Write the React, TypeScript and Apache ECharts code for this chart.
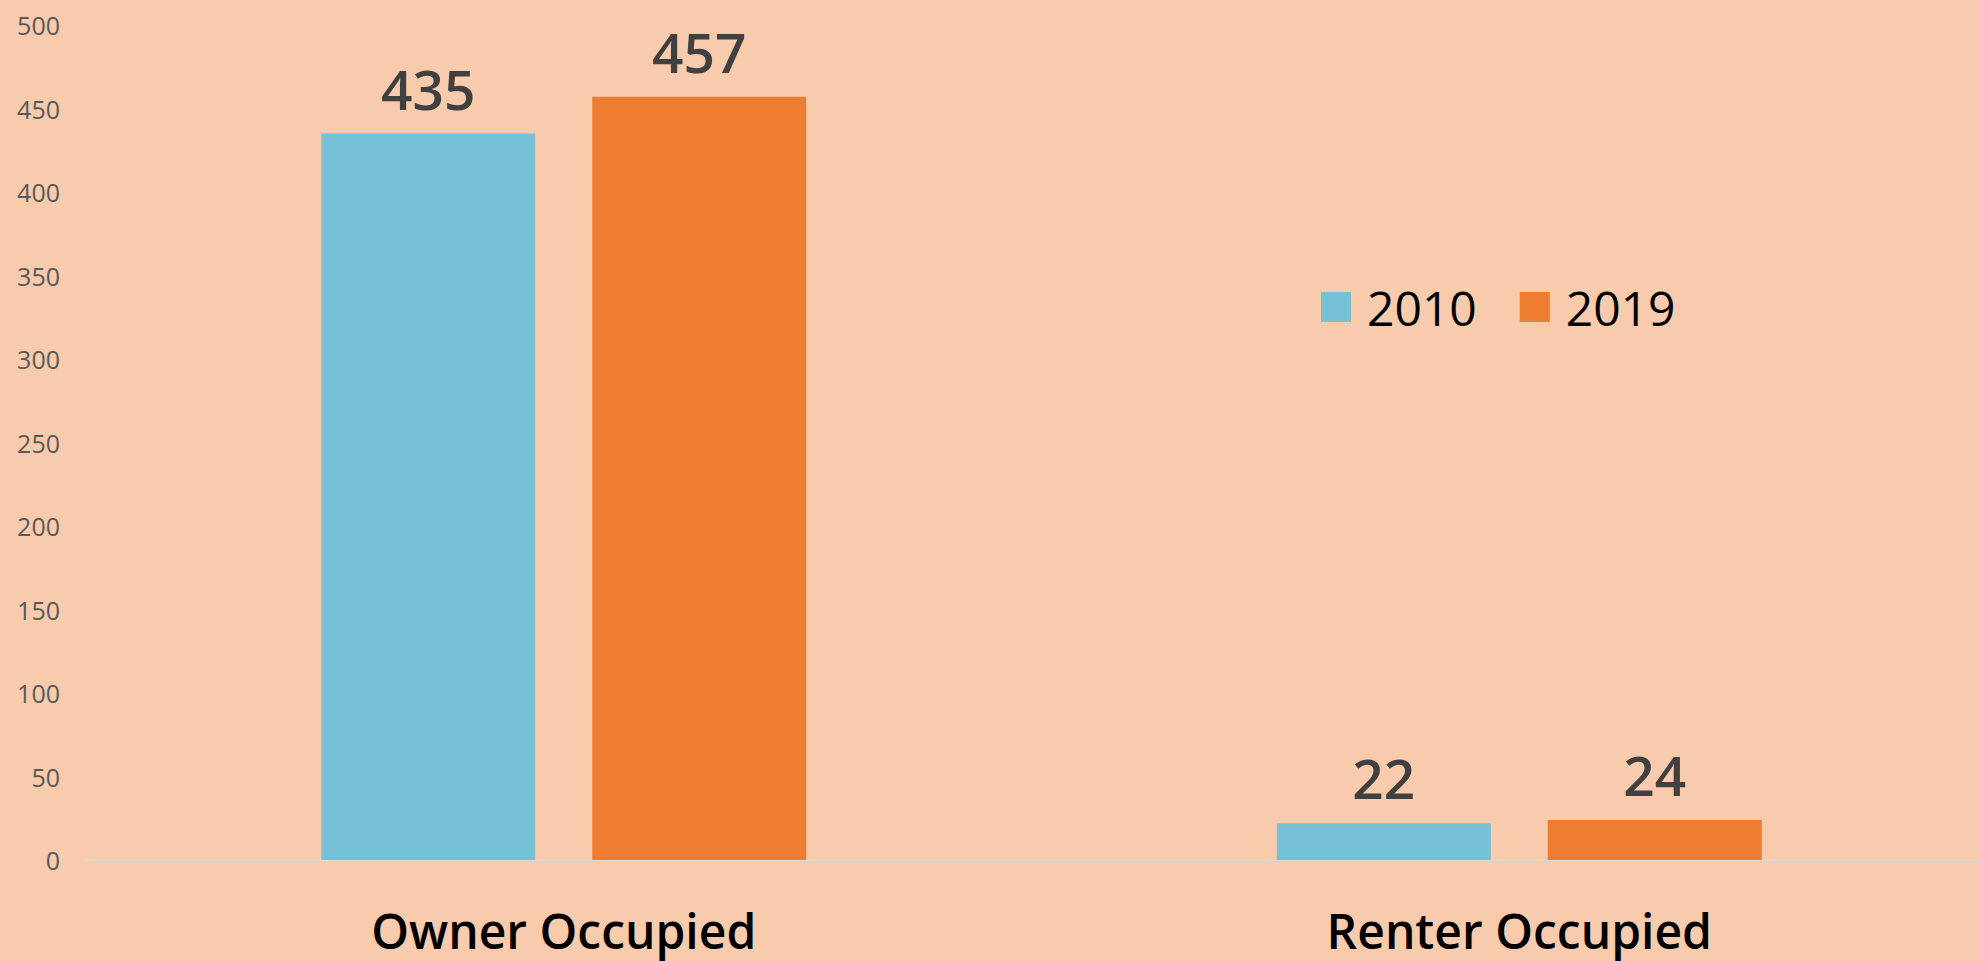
import React, { useEffect, useRef } from "react";
import * as echarts from "echarts";

const categories = ["Owner Occupied", "Renter Occupied"];
const seriesNames = ["2010", "2019"];
const values2010 = [435, 22];
const values2019 = [457, 24];
const yTicks = { min: 0, max: 500, interval: 50 };

const FONT = "'Open Sans', 'Noto Sans', sans-serif";

export default function App() {
  const ref = useRef<HTMLDivElement>(null);
  useEffect(() => {
    if (!ref.current) return;
    const chart = echarts.init(ref.current, undefined, { renderer: "svg" });
    const labelCfg = {
      show: true,
      position: "top",
      distance: 18,
      fontFamily: FONT,
      fontSize: 55,
      fontWeight: 600,
      color: "#404040",
    };
    chart.setOption({
      animation: false,
      backgroundColor: "#F8CBAD",
      textStyle: { fontFamily: FONT },
      grid: { left: 86, right: 0, top: 25, bottom: 101, containLabel: false, outerBoundsMode: "none" },
      legend: {
        data: seriesNames,
        left: 1321,
        top: 283,
        padding: 0,
        itemWidth: 30,
        itemHeight: 30,
        itemGap: 43,
        icon: "rect",
        textStyle: { fontFamily: FONT, fontSize: 48, color: "#000000", padding: [0, 0, 0, 11] },
      },
      xAxis: {
        type: "category",
        data: categories,
        axisTick: { show: false },
        axisLine: { show: true, lineStyle: { color: "#D9D9D9", width: 2 } },
        axisLabel: { fontFamily: FONT, fontSize: 48, fontWeight: 600, color: "#000000", margin: 46 },
      },
      yAxis: {
        type: "value",
        min: yTicks.min,
        max: yTicks.max,
        interval: yTicks.interval,
        splitLine: { show: false },
        axisLine: { show: false },
        axisTick: { show: false },
        axisLabel: { fontFamily: FONT, fontSize: 25, color: "#595959", margin: 26 },
      },
      series: [
        {
          name: seriesNames[0],
          type: "bar",
          data: values2010,
          barWidth: 214,
          barGap: "26.6%",
          itemStyle: { color: "#76C0D8" },
          label: labelCfg,
        },
        {
          name: seriesNames[1],
          type: "bar",
          data: values2019,
          barWidth: 214,
          barGap: "26.6%",
          itemStyle: { color: "#ED7D31" },
          label: labelCfg,
        },
      ],
    });
    return () => chart.dispose();
  }, []);
  return (
    <div style={{ position: "fixed", left: 0, top: 0, width: 1979, height: 961, overflow: "hidden", background: "#F8CBAD" }}>
      <div ref={ref} style={{ width: 1997, height: 961 }} />
    </div>
  );
}
